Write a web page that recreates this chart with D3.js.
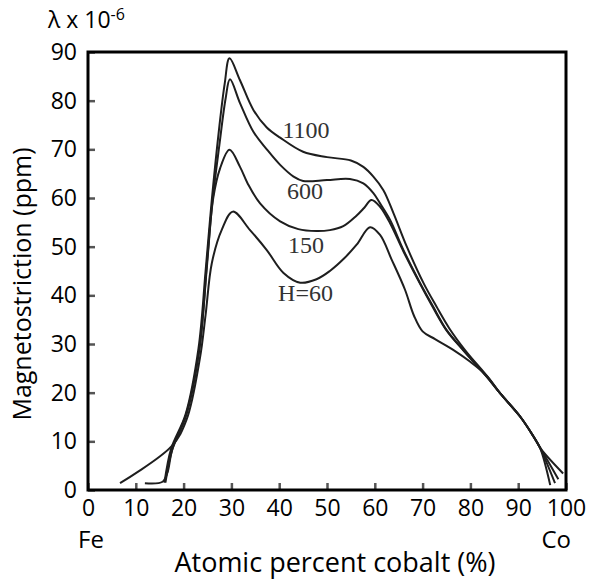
<!DOCTYPE html>
<html>
<head>
<meta charset="utf-8">
<script src="https://cdn.jsdelivr.net/npm/d3@7"></script>
<style>
  body { margin: 0; background: #fff; }
  svg { display: block; }
</style>
</head>
<body>
<div id="chart"></div>
<script>
// tick values
var xTicks = [0, 10, 20, 30, 40, 50, 60, 70, 80, 90, 100];
var yTicks = [0, 10, 20, 30, 40, 50, 60, 70, 80, 90];

// curve labels (field H)
var fields = ["1100", "600", "150", "H=60"];

// [atomic % Co, magnetostriction ppm]
var h1100 = [[16.0, 1.5], [17.4, 8.5], [20.4, 15.5], [23.1, 29], [24.6, 45], [25.9, 59.6], [27.4, 74],
  [28.6, 83.5], [29.6, 88.7], [31.8, 84.2], [34.6, 78.1], [37.4, 74.5], [40.2, 72.4], [45, 69.5],
  [50, 68.4], [55, 67.7], [57.6, 66.4], [59.7, 64.4], [61.8, 61.6], [63.9, 56.9], [66.7, 50],
  [70.2, 42.5], [72.9, 37.7], [75.6, 33.2], [79, 28.6], [83.4, 23.5], [86.2, 19.9], [90.4, 15.1],
  [93.2, 11], [94.8, 8.4], [99.4, 3.4]];
var h600 = [[16.2, 1.5], [17.6, 8.3], [20.6, 15.8], [23.3, 29], [24.8, 45], [26.0, 59], [27.5, 71],
  [28.8, 80.5], [29.7, 84.4], [31.8, 79.5], [34.6, 73.6], [37.4, 70], [40.2, 66.8], [43, 64.4],
  [45, 63.5], [50, 63.7], [54.8, 63.9], [57.6, 63], [59.7, 61], [61.1, 58.9], [63.2, 55.5], [66, 49.3],
  [69.5, 42.5], [72.2, 37.7], [75, 32.9], [78.5, 28.8], [83.4, 23.3], [86.2, 19.9], [90.4, 15.1],
  [93.2, 11], [94.7, 8.5], [98.4, 2.2]];
var h150 = [[11.9, 1.4], [15.6, 1.7], [16.6, 3.5], [17.6, 8.2], [20.6, 15.5], [23.3, 29], [25.0, 48],
  [26.2, 60], [27.6, 66], [29.6, 69.9], [31.8, 66.4], [33.4, 63], [36, 58.9], [40.2, 55.2], [44, 53.6],
  [47.8, 53.2], [50.6, 53.4], [53.4, 54.2], [56, 56.2], [57.8, 58], [59.3, 59.6], [61.1, 58.2],
  [63.2, 54.8], [66, 49], [69.5, 42.3], [72, 37.8], [75, 32.8], [78.5, 28.7], [83.4, 23.3],
  [86.2, 19.9], [90.4, 15.1], [93.2, 11], [94.6, 8.6], [97.7, 1.4]];
var h60 = [[6.7, 1.4], [17.5, 9], [20.6, 14.4], [23.4, 27], [24.6, 36], [25.9, 46.6], [28.0, 53.5],
  [30.3, 57.2], [33.9, 53.4], [37.4, 49.3], [40.9, 44.6], [44.4, 42.6], [47.8, 43.3], [50.6, 45],
  [53.5, 47.5], [56.2, 50.4], [59, 54], [61.1, 52.4], [63.5, 47.4], [66.3, 41.2], [68.2, 35.8],
  [70, 32.6], [72.6, 31], [76.4, 28.8], [79.9, 26.4], [83.4, 23.5], [86.2, 19.9], [90.4, 15.1],
  [93.2, 11], [94.6, 8.6], [96.7, 1]];
var curves = [h1100, h600, h150, h60];

// label anchor points [x, y] in data units
var labelPos = [[45.6, 72.4], [45.4, 59.7], [45.6, 48.6], [45.5, 38.8]];

var width = 590, height = 580;
var margin = {top: 52, right: 24, bottom: 90, left: 88};
var innerWidth = width - margin.left - margin.right;
var innerHeight = height - margin.top - margin.bottom;

var svg = d3.select('#chart')
            .append('svg')
            .attr('width', width)
            .attr('height', height);

var g = svg.append('g')
           .attr('transform', `translate(${margin.left},${margin.top})`);

var xScale = d3.scaleLinear().domain([0, 100]).range([0, innerWidth]);
var yScale = d3.scaleLinear().domain([0, 90]).range([innerHeight, 0]);

// axes with inward ticks
var xAxis = g.append('g')
  .attr('transform', `translate(0,${innerHeight})`)
  .call(d3.axisBottom(xScale).tickValues(xTicks).tickSize(-7).tickPadding(10));
var yAxis = g.append('g')
  .call(d3.axisLeft(yScale).tickValues(yTicks).tickSize(-7).tickPadding(11));

[xAxis, yAxis].forEach(function(ax) {
  ax.select('.domain').remove();
  ax.selectAll('.tick line').attr('stroke', '#555').attr('stroke-width', 2.5);
  ax.selectAll('.tick text')
    .attr('fill', '#000')
    .style('font-family', '"Open Sans", sans-serif')
    .style('font-size', '23px');
});

// curves
var line = d3.line()
  .x(d => xScale(d[0]))
  .y(d => yScale(d[1]))
  .curve(d3.curveCatmullRom.alpha(0.5));

g.append('g')
  .selectAll('path')
  .data(curves)
  .join('path')
  .attr('d', line)
  .attr('fill', 'none')
  .attr('stroke', '#1e1e1e')
  .attr('stroke-width', 2);

g.append('g')
  .selectAll('text')
  .data(fields)
  .join('text')
  .attr('x', (d, i) => xScale(labelPos[i][0]))
  .attr('y', (d, i) => yScale(labelPos[i][1]))
  .attr('text-anchor', 'middle')
  .attr('fill', '#333')
  .style('font-family', '"Liberation Serif", serif')
  .style('font-size', '24px')
  .text(d => d);

// frame
g.append('rect')
  .attr('width', innerWidth)
  .attr('height', innerHeight)
  .attr('fill', 'none')
  .attr('stroke', '#000')
  .attr('stroke-width', 3);

var sans = '"Open Sans", sans-serif';

svg.append('text')
  .attr('x', 78).attr('y', 548)
  .style('font-family', sans).style('font-size', '24px')
  .text('Fe');
svg.append('text')
  .attr('x', 571).attr('y', 548)
  .attr('text-anchor', 'end')
  .style('font-family', sans).style('font-size', '24px')
  .text('Co');

svg.append('text')
  .attr('x', 335).attr('y', 572)
  .attr('text-anchor', 'middle')
  .style('font-family', sans).style('font-size', '27px')
  .text('Atomic percent cobalt (%)');

svg.append('text')
  .attr('transform', 'translate(31,284) rotate(-90)')
  .attr('text-anchor', 'middle')
  .style('font-family', sans).style('font-size', '25px')
  .text('Magnetostriction (ppm)');

// unit note at top left
var unit = svg.append('text')
  .attr('x', 48).attr('y', 28)
  .style('font-family', sans).style('font-size', '23px');
unit.append('tspan').text('\u03bb x 10');
unit.append('tspan').attr('dy', -8).style('font-size', '16px').text('-6');
</script>
</body>
</html>
